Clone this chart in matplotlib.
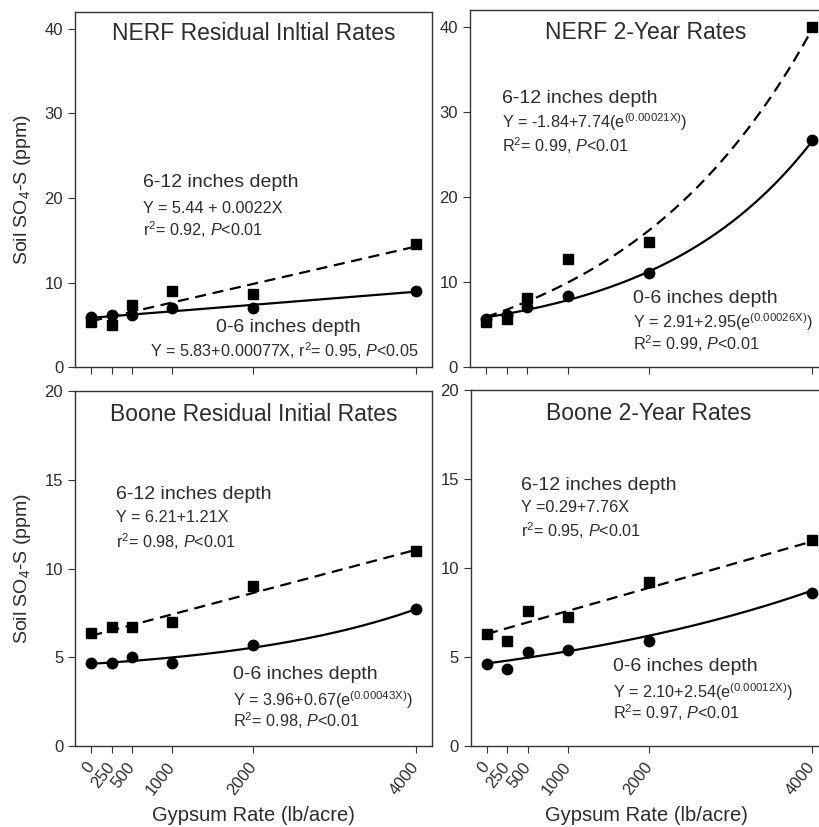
import numpy as np
import matplotlib.pyplot as plt

plt.rcParams['font.family'] = ['Liberation Sans', 'DejaVu Sans']
plt.rcParams['mathtext.fontset'] = 'custom'
plt.rcParams['mathtext.rm'] = 'Liberation Sans'
plt.rcParams['mathtext.it'] = 'Liberation Sans:italic'

TXT = '#2c2c2c'

rates = [0, 250, 500, 1000, 2000, 4000]
rate_labels = ['0', '250', '500', '1000', '2000', '4000']

# measured soil SO4-S (ppm), 0-6 in (circles) and 6-12 in (squares)
nerf_init_06 = [5.9, 6.2, 6.2, 7.0, 7.0, 9.0]
nerf_init_612 = [5.3, 5.0, 7.4, 9.0, 8.7, 14.6]
nerf_2yr_06 = [5.7, 6.1, 7.1, 8.4, 11.1, 26.7]
nerf_2yr_612 = [5.3, 5.7, 8.1, 12.7, 14.7, 40.0]
boone_init_06 = [4.7, 4.7, 5.0, 4.7, 5.7, 7.7]
boone_init_612 = [6.35, 6.7, 6.7, 7.0, 9.0, 11.0]
boone_2yr_06 = [4.6, 4.3, 5.3, 5.4, 5.9, 8.6]
boone_2yr_612 = [6.3, 5.9, 7.6, 7.25, 9.2, 11.6]

# fitted curves as drawn: ('lin', a, b) -> a + bX ; ('exp', a, b, c) -> a + b e^(cX)
nerf_init_fit = [('lin', 5.83, 0.00077), ('lin', 5.44, 0.0022)]
nerf_2yr_fit = [('exp', 2.91, 2.95, 0.00052), ('exp', -1.84, 7.74, 0.00042)]
boone_init_fit = [('exp', 3.96, 0.67, 0.00043), ('lin', 6.21, 0.00121)]
boone_2yr_fit = [('exp', 2.10, 2.54, 0.00024), ('lin', 6.3, 0.0013)]


def curve(fit, x):
    if fit[0] == 'lin':
        return fit[1] + fit[2] * x
    return fit[1] + fit[2] * np.exp(fit[3] * x)


fig = plt.figure(figsize=(8.2, 8.27), dpi=100)
ax_tl = fig.add_axes([0.0915, 0.556, 0.435, 0.430])
ax_tr = fig.add_axes([0.573, 0.556, 0.430, 0.432])
ax_bl = fig.add_axes([0.0915, 0.098, 0.435, 0.429])
ax_br = fig.add_axes([0.574, 0.098, 0.429, 0.430])

panels = [
    (ax_tl, nerf_init_06, nerf_init_612, nerf_init_fit, 42, [0, 10, 20, 30, 40]),
    (ax_tr, nerf_2yr_06, nerf_2yr_612, nerf_2yr_fit, 42, [0, 10, 20, 30, 40]),
    (ax_bl, boone_init_06, boone_init_612, boone_init_fit, 20, [0, 5, 10, 15, 20]),
    (ax_br, boone_2yr_06, boone_2yr_612, boone_2yr_fit, 20, [0, 5, 10, 15, 20]),
]

xs = np.linspace(0, 4000, 200)
for ax, y06, y612, fits, ytop, yt in panels:
    ax.plot(xs, curve(fits[0], xs), '-', color='black', lw=1.6)
    ax.plot(xs, curve(fits[1], xs), '--', color='black', lw=1.6, dashes=(5, 3))
    ax.plot(rates, y06, 'o', color='black', ms=7.5)
    ax.plot(rates, y612, 's', color='black', ms=7.5)
    ax.set_ylim(0, ytop)
    ax.set_yticks(yt)
    ax.set_xticks(rates)
    for s in ax.spines.values():
        s.set_color('#333333')
        s.set_linewidth(1.0)
    ax.tick_params(direction='out', length=5, color='#333333', labelsize=12, labelcolor=TXT)

ax_tl.set_xlim(-200, 4200)
ax_bl.set_xlim(-200, 4200)
ax_tr.set_xlim(-200, 4130)
ax_br.set_xlim(-200, 4130)

for ax in (ax_tl, ax_tr):
    ax.set_xticklabels([])
for ax in (ax_bl, ax_br):
    ax.set_xticklabels(rate_labels, rotation=52, ha='right', va='center', rotation_mode='anchor')
    ax.tick_params(axis='x', pad=8)
    ax.set_xlabel('Gypsum Rate (lb/acre)', fontsize=14.5, color=TXT, labelpad=6)
for ax in (ax_tl, ax_bl):
    ax.set_ylabel('Soil SO$_4$-S (ppm)', fontsize=14, color=TXT, labelpad=8)

big = dict(color=TXT, fontsize=14, va='center')
small = dict(color=TXT, fontsize=11.7, va='center')
ttl = dict(color=TXT, fontsize=16.5, va='center', ha='center')

ax_tl.text(2000, 39.4, 'NERF Residual Inltial Rates', **ttl)
ax_tl.text(640, 21.8, '6-12 inches depth', **big)
ax_tl.text(640, 18.7, 'Y = 5.44 + 0.0022X', **small)
ax_tl.text(640, 16.2, 'r$^2$= 0.92, $P$<0.01', **small)
ax_tl.text(1540, 4.7, '0-6 inches depth', **big)
ax_tl.text(725, 2.0, 'Y = 5.83+0.00077X, r$^2$= 0.95, $P$<0.05', **small)

ax_tr.text(1960, 39.4, 'NERF 2-Year Rates', **ttl)
ax_tr.text(195, 31.6, '6-12 inches depth', **big)
ax_tr.text(195, 28.8, 'Y = -1.84+7.74(e$^{\\mathregular{(0.00021X)}}$)', **small)
ax_tr.text(195, 26.1, 'R$^2$= 0.99, $P$<0.01', **small)
ax_tr.text(1805, 8.1, '0-6 inches depth', **big)
ax_tr.text(1805, 5.3, 'Y = 2.91+2.95(e$^{\\mathregular{(0.00026X)}}$)', **small)
ax_tr.text(1805, 2.8, 'R$^2$= 0.99, $P$<0.01', **small)

ax_bl.text(2005, 18.7, 'Boone Residual Initial Rates', **ttl)
ax_bl.text(307, 14.2, '6-12 inches depth', **big)
ax_bl.text(307, 12.9, 'Y = 6.21+1.21X', **small)
ax_bl.text(307, 11.5, 'r$^2$= 0.98, $P$<0.01', **small)
ax_bl.text(1750, 4.0, '0-6 inches depth', **big)
ax_bl.text(1750, 2.6, 'Y = 3.96+0.67(e$^{\\mathregular{(0.00043X)}}$)', **small)
ax_bl.text(1750, 1.4, 'R$^2$= 0.98, $P$<0.01', **small)

ax_br.text(1995, 18.7, 'Boone 2-Year Rates', **ttl)
ax_br.text(425, 14.65, '6-12 inches depth', **big)
ax_br.text(425, 13.4, 'Y =0.29+7.76X', **small)
ax_br.text(425, 12.1, 'r$^2$= 0.95, $P$<0.01', **small)
ax_br.text(1550, 4.45, '0-6 inches depth', **big)
ax_br.text(1550, 3.05, 'Y = 2.10+2.54(e$^{\\mathregular{(0.00012X)}}$)', **small)
ax_br.text(1550, 1.85, 'R$^2$= 0.97, $P$<0.01', **small)

fig.savefig('out.png', dpi=100)
